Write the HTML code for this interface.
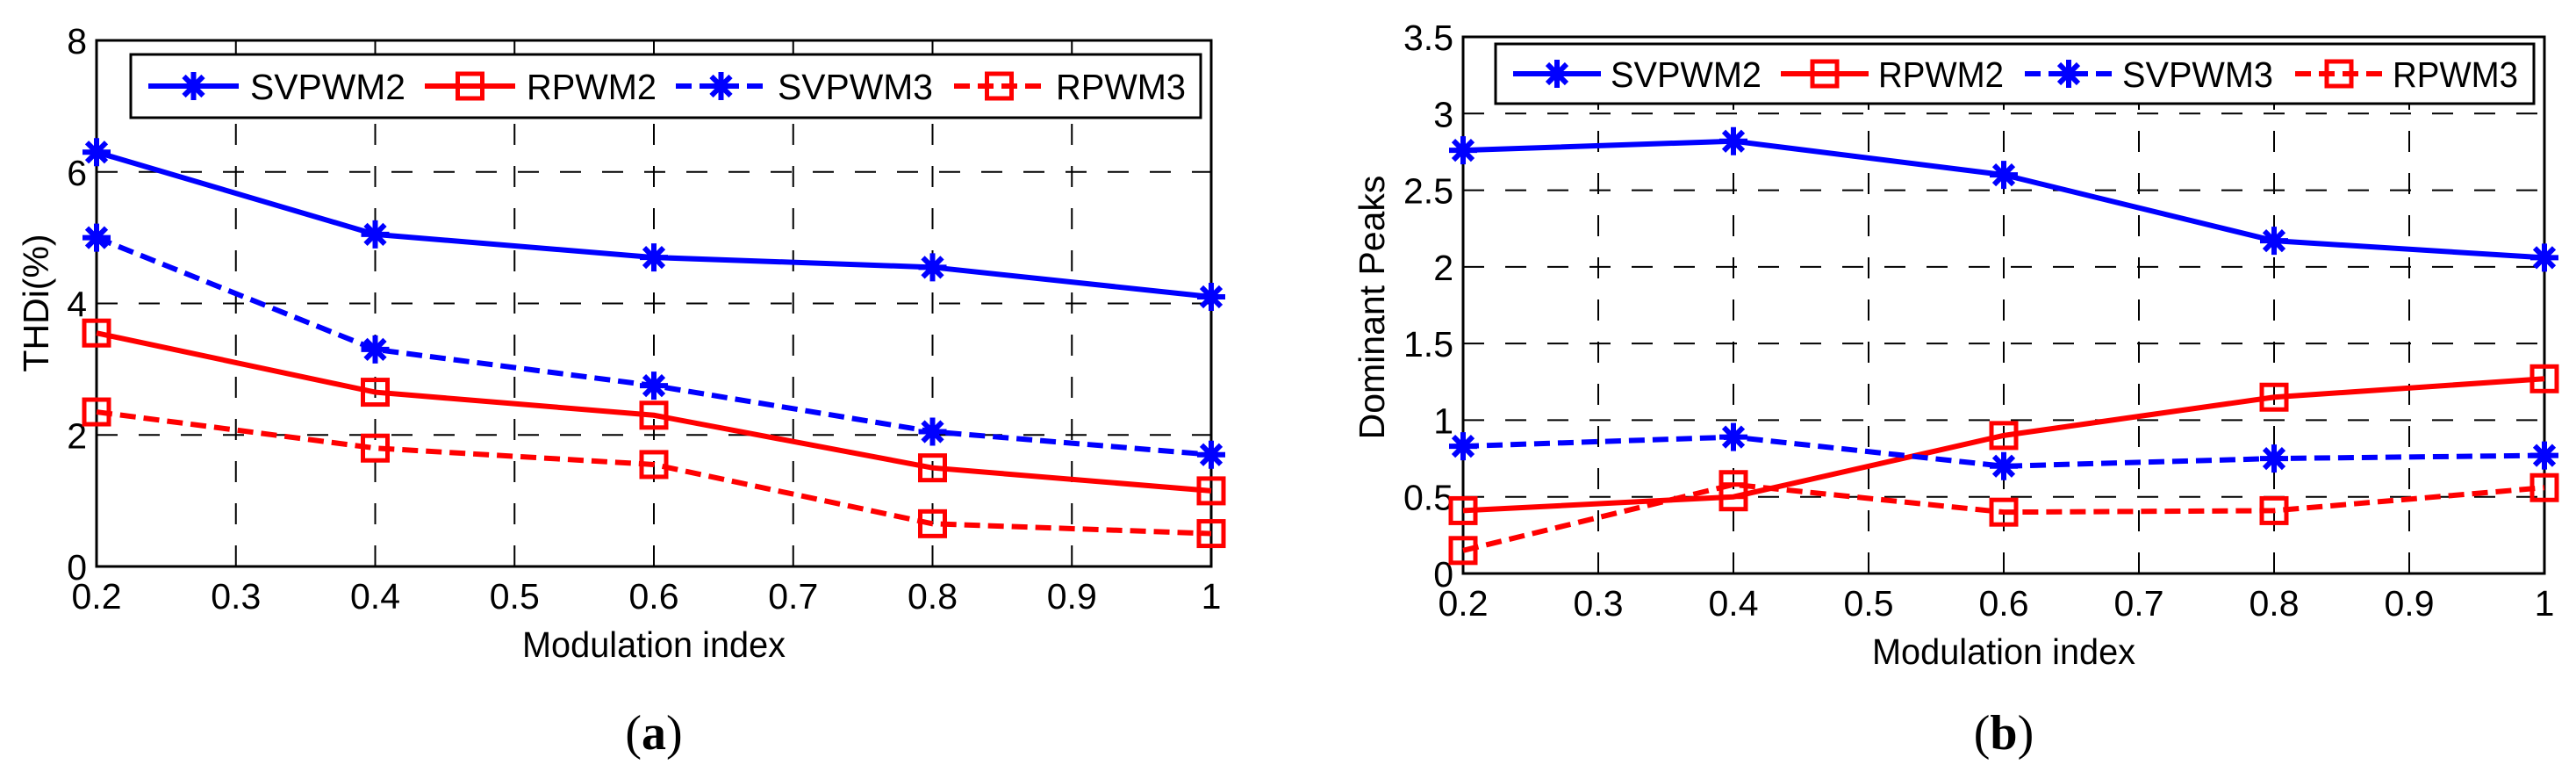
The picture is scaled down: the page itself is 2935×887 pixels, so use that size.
<!DOCTYPE html>
<html><head><meta charset="utf-8"><style>
html,body{margin:0;padding:0;background:#fff;}
svg{display:block;font-family:"Liberation Sans",sans-serif;}
</style></head><body>
<svg id="fig" width="2935" height="887" xmlns="http://www.w3.org/2000/svg"></svg>
<script>
const categories = [0.2, 0.4, 0.6, 0.8, 1.0];
const xTicks = [0.2,0.3,0.4,0.5,0.6,0.7,0.8,0.9,1];
const xTickLabels = ["0.2","0.3","0.4","0.5","0.6","0.7","0.8","0.9","1"];
const aYTicks = [0,2,4,6,8];
const aYTickLabels = ["0","2","4","6","8"];
const bYTicks = [0,0.5,1,1.5,2,2.5,3,3.5];
const bYTickLabels = ["0","0.5","1","1.5","2","2.5","3","3.5"];
const seriesNames = ["SVPWM2","RPWM2","SVPWM3","RPWM3"];
const aSVPWM2 = [6.3, 5.05, 4.7, 4.55, 4.1];
const aRPWM2  = [3.55, 2.65, 2.3, 1.5, 1.15];
const aSVPWM3 = [5.0, 3.3, 2.75, 2.05, 1.7];
const aRPWM3  = [2.35, 1.8, 1.55, 0.65, 0.5];
const bSVPWM2 = [2.76, 2.82, 2.6, 2.17, 2.06];
const bRPWM2  = [0.41, 0.5, 0.9, 1.15, 1.27];
const bSVPWM3 = [0.83, 0.89, 0.7, 0.75, 0.77];
const bRPWM3  = [0.15, 0.58, 0.4, 0.41, 0.56];

const NS="http://www.w3.org/2000/svg";
const svg=document.getElementById('fig');
function mk(tag,attrs,parent){const e=document.createElementNS(NS,tag);for(const k in attrs)e.setAttribute(k,attrs[k]);(parent||svg).appendChild(e);return e;}

const styles=[{c:"#0000ff",dash:null,m:"star"},{c:"#ff0000",dash:null,m:"sq"},{c:"#0000ff",dash:"18 9",m:"star"},{c:"#ff0000",dash:"18 9",m:"sq"}];

function marker(g,type,x,y,c){
  if(type==="star"){
    const r=16,d=11;
    mk('path',{d:`M${x-r},${y}H${x+r}M${x},${y-r}V${y+r}M${x-d},${y-d}L${x+d},${y+d}M${x-d},${y+d}L${x+d},${y-d}`,stroke:c,'stroke-width':6,fill:'none'},g);
  } else {
    mk('rect',{x:x-14,y:y-14,width:28,height:28,stroke:c,'stroke-width':5,fill:'none'},g);
  }
}

function panel(cfg){
  const g=mk('g',{});
  
  
  const X=v=>cfg.x0+(v-0.2)/0.8*(cfg.x1-cfg.x0);
  const Y=v=>cfg.y0-(v-cfg.ymin)/(cfg.ymax-cfg.ymin)*(cfg.y0-cfg.y1);
  // grid
  const grid=mk('g',{stroke:'#000','stroke-width':2,'stroke-dasharray':'24 24'},g);
  
  
  xTicks.forEach((t,i)=>{ if(i>0&&i<xTicks.length-1) mk('line',{x1:X(t),x2:X(t),y1:cfg.y0,y2:cfg.y1},grid);});
  cfg.yTicks.forEach((t,i)=>{ if(i>0&&i<cfg.yTicks.length-1) mk('line',{x1:cfg.x0,x2:cfg.x1,y1:Y(t),y2:Y(t)},grid);});
  // axes box
  const box=mk('rect',{x:cfg.x0,y:cfg.y1,width:cfg.x1-cfg.x0,height:cfg.y0-cfg.y1,fill:'none',stroke:'#000','stroke-width':3},g);
  
  
  // tick labels
  xTicks.forEach((t,i)=>{const e=mk('text',{x:X(t),y:cfg.y0+48,'font-size':41,'text-anchor':'middle'},g);e.textContent=xTickLabels[i];
    
    });
  cfg.yTicks.forEach((t,i)=>{const e=mk('text',{x:cfg.x0-11,y:Y(t)+15,'font-size':41,'text-anchor':'end'},g);e.textContent=cfg.yLabels[i];
    
    });
  // series
  cfg.series.forEach((vals,si)=>{
    const s=styles[si];
    const sg=mk('g',{},g);
    
    
    const pts=vals.map((v,i)=>X(categories[i])+','+Y(v)).join(' ');
    const pl=mk('polyline',{points:pts,fill:'none',stroke:s.c,'stroke-width':6},sg);
    if(s.dash) pl.setAttribute('stroke-dasharray',s.dash);
    vals.forEach((v,i)=>marker(sg,s.m,X(categories[i]),Y(v),s.c));
  });
  // legend
  const lg=mk('g',{},g);
  
  
  mk('rect',{x:cfg.lx0,y:cfg.ly0,width:cfg.lx1-cfg.lx0,height:cfg.ly1-cfg.ly0,fill:'#fff',stroke:'#000','stroke-width':3},lg);
  const cy=(cfg.ly0+cfg.ly1)/2;
  cfg.lentries.forEach((lx,i)=>{
    const s=styles[i];
    const eg=mk('g',{},lg);
    
    
    const ln=mk('line',{x1:lx,x2:lx+cfg.lineW,y1:cy,y2:cy,stroke:s.c,'stroke-width':6},eg);
    if(s.dash) ln.setAttribute('stroke-dasharray',s.dash);
    marker(eg,s.m,lx+cfg.lineW/2,cy,s.c);
    const t=mk('text',{x:lx+cfg.textOff,y:cy+15,'font-size':41,textLength:(i%2==0?cfg.tw1:cfg.tw2),lengthAdjust:'spacingAndGlyphs'},eg);
    t.textContent=seriesNames[i];
  });
  // labels
  const xl=mk('text',{x:(cfg.x0+cfg.x1)/2,y:cfg.y0+103,'font-size':41,'text-anchor':'middle',textLength:300,lengthAdjust:'spacingAndGlyphs'},g);
  xl.textContent='Modulation index';
  
  
  const yl=mk('text',{x:0,y:0,'font-size':41,'text-anchor':'middle',transform:`translate(${cfg.ylx},${cfg.yly}) rotate(-90)`},g);
  yl.textContent=cfg.ylabel;
  
  
  const cap=mk('text',{x:(cfg.x0+cfg.x1)/2,y:853,'font-size':56,'text-anchor':'middle','font-family':'Liberation Serif, serif'},g);
  cap.innerHTML='(<tspan font-weight="bold">'+cfg.cap+'</tspan>)';
  
  
}

panel({name:'chart-a',x0:110,x1:1380,y0:645,y1:46,ymin:0,ymax:8,yTicks:aYTicks,yLabels:aYTickLabels,
  series:[aSVPWM2,aRPWM2,aSVPWM3,aRPWM3],lx0:149,lx1:1368,ly0:62,ly1:134,lentries:[169,484,770,1087],lineW:103,textOff:116,tw1:177,tw2:148,
  ylabel:'THDi(%)',ylx:55,yly:345,cap:'a'});
panel({name:'chart-b',x0:1667,x1:2899,y0:653,y1:42,ymin:0,ymax:3.5,yTicks:bYTicks,yLabels:bYTickLabels,
  series:[bSVPWM2,bRPWM2,bSVPWM3,bRPWM3],lx0:1704,lx1:2887,ly0:50,ly1:118,lentries:[1724,2029,2307,2615],lineW:100,textOff:111,tw1:172,tw2:143,
  ylabel:'Dominant Peaks',ylx:1577,yly:350,cap:'b'});
</script>
</body></html>
